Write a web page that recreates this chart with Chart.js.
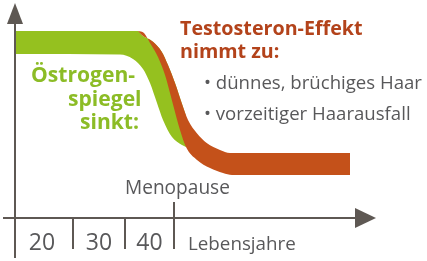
<!DOCTYPE html>
<html>
<head>
<meta charset="utf-8">
<script src="https://cdn.jsdelivr.net/npm/chart.js@4.4.1/dist/chart.umd.min.js"></script>
<style>
  html, body { margin: 0; padding: 0; background: #fff; }
  #wrap { width: 427px; height: 261px; position: relative; }
</style>
</head>
<body>
<div id="wrap"><canvas id="chart"></canvas></div>
<script>
// x = Lebensjahre, y = Spiegel / Wirkung (%)
const ageMin = 13;
const ageMax = 85;
const ageBreaks = [24.6, 35, 44.8];
const decadeLabels = ['20', '30', '40'];
const menopauseAge = 44.8;

// edges of the two bands as [age, level]
const estrogenUpper = [[13.2, 93.5], [37.6, 93.5], [38.34, 91.5], [40.6, 88.15], [42.34, 83.15], [43.6, 76.5],
  [45, 67.5], [46.34, 57.5], [47.2, 51]];
const estrogenLower = [[13.2, 82], [34, 81.75], [36.6, 79.5], [38.6, 74.5], [40, 67.5], [41.4, 57.5],
  [42.6, 49], [44.4, 40.5], [46.4, 36.5], [47.2, 35.5]];
const testoUpper = [[37.6, 93.5], [38.34, 91.5], [40.6, 88.15], [42.34, 83.15], [43.6, 76.5], [45, 67.5],
  [46.34, 57.5], [47.6, 49], [49.34, 42.5], [51.34, 37.5], [54, 34], [56, 32.5], [58, 32.5], [80, 32.5]];
const testoLower = [[37.6, 93.5], [38.8, 92.5], [40, 87.5], [41.6, 80.5], [43, 71.5], [44, 62.5], [45, 53],
  [46, 44], [47.2, 35.5], [49.4, 29], [52, 25], [54.6, 22.5], [56.4, 21.5], [80, 21.5]];

const green = '#95c11f';
const greenText = '#8cbc26';
const orange = '#c4511a';
const orangeText = '#b3431b';
const grey = '#58585a';
const axisColor = '#5e5853';

function toXY(list) {
  return list.map(p => ({ x: p[0], y: p[1] }));
}

function band(label, data, color, fill) {
  return {
    label: label,
    data: toXY(data),
    fill: fill,
    backgroundColor: color,
    borderColor: 'transparent',
    borderWidth: 0,
    pointRadius: 0,
    cubicInterpolationMode: 'monotone'
  };
}

function fitFont(ctx, text, weight, width) {
  ctx.font = weight + ' 20px "Open Sans"';
  const w = ctx.measureText(text).width;
  return weight + ' ' + (20 * width / w).toFixed(1) + 'px "Open Sans"';
}

const overlay = {
  id: 'overlay',
  afterDraw(chart) {
    const ctx = chart.ctx;
    const x = chart.scales.x;
    const y = chart.scales.y;
    const x0 = x.getPixelForValue(ageMin);
    const y0 = y.getPixelForValue(0);
    const top = chart.chartArea.top;
    const right = chart.chartArea.right;

    ctx.save();
    ctx.strokeStyle = axisColor;
    ctx.fillStyle = axisColor;
    ctx.lineWidth = 2;

    // axes
    ctx.beginPath();
    ctx.moveTo(x0, y0 + 40);
    ctx.lineTo(x0, top + 4);
    ctx.moveTo(x0 - 12, y0);
    ctx.lineTo(right - 18, y0);
    ctx.stroke();

    ctx.beginPath();
    ctx.moveTo(x0, top - 15);
    ctx.lineTo(x0 - 8, top + 6);
    ctx.lineTo(x0 + 8, top + 6);
    ctx.closePath();
    ctx.fill();

    ctx.beginPath();
    ctx.moveTo(right + 1, y0);
    ctx.lineTo(right - 20, y0 - 10);
    ctx.lineTo(right - 20, y0 + 10);
    ctx.closePath();
    ctx.fill();

    // decade separators
    ctx.beginPath();
    ageBreaks.forEach(a => {
      const px = x.getPixelForValue(a);
      ctx.moveTo(px, a === menopauseAge ? y0 - 16 : y0);
      ctx.lineTo(px, y0 + 31);
    });
    ctx.stroke();

    // decade labels
    ctx.fillStyle = grey;
    ctx.textBaseline = 'alphabetic';
    ctx.textAlign = 'center';
    ctx.font = 'normal 23px "Open Sans"';
    const cells = [ageMin].concat(ageBreaks);
    decadeLabels.forEach((t, i) => {
      const cx = (x.getPixelForValue(cells[i]) + x.getPixelForValue(cells[i + 1])) / 2;
      ctx.fillText(t, cx - (i === 0 ? 2 : 0), y0 + 32);
    });

    ctx.textAlign = 'left';
    ctx.font = fitFont(ctx, 'Lebensjahre', 'normal', 108);
    ctx.fillText('Lebensjahre', x.getPixelForValue(menopauseAge) + 14, y0 + 32);
    ctx.font = fitFont(ctx, 'Menopause', 'normal', 105);
    ctx.fillText('Menopause', 125, 194);

    // Östrogen text
    ctx.fillStyle = greenText;
    ctx.font = fitFont(ctx, 'Östrogen-', 'bold', 104);
    ctx.fillText('Östrogen-', 31, 82);
    ctx.fillText('spiegel', 68, 106);
    ctx.fillText('sinkt:', 80, 129);

    // Testosteron text
    ctx.fillStyle = orangeText;
    ctx.font = fitFont(ctx, 'Testosteron-Effekt', 'bold', 183);
    ctx.fillText('Testosteron-Effekt', 180, 35);
    ctx.fillText('nimmt zu:', 180, 58);

    ctx.fillStyle = grey;
    ctx.font = fitFont(ctx, '• dünnes, brüchiges Haar', 'normal', 218);
    ctx.fillText('• dünnes, brüchiges Haar', 204, 89);
    ctx.fillText('• vorzeitiger Haarausfall', 204, 120);
    ctx.restore();
  }
};

new Chart(document.getElementById('chart'), {
  type: 'line',
  data: {
    datasets: [
      band('Testosteron oben', testoUpper, orange, '+1'),
      band('Testosteron unten', testoLower, orange, false),
      band('Östrogen oben', estrogenUpper, green, '+1'),
      band('Östrogen unten', estrogenLower, green, false)
    ]
  },
  options: {
    responsive: true,
    maintainAspectRatio: false,
    animation: false,
    events: [],
    layout: { padding: { left: 15, right: 52, top: 18, bottom: 43 } },
    scales: {
      x: { type: 'linear', min: ageMin, max: ageMax, display: false },
      y: { min: 0, max: 100, display: false }
    },
    plugins: {
      legend: { display: false },
      tooltip: { enabled: false }
    }
  },
  plugins: [overlay]
});
</script>
</body>
</html>
